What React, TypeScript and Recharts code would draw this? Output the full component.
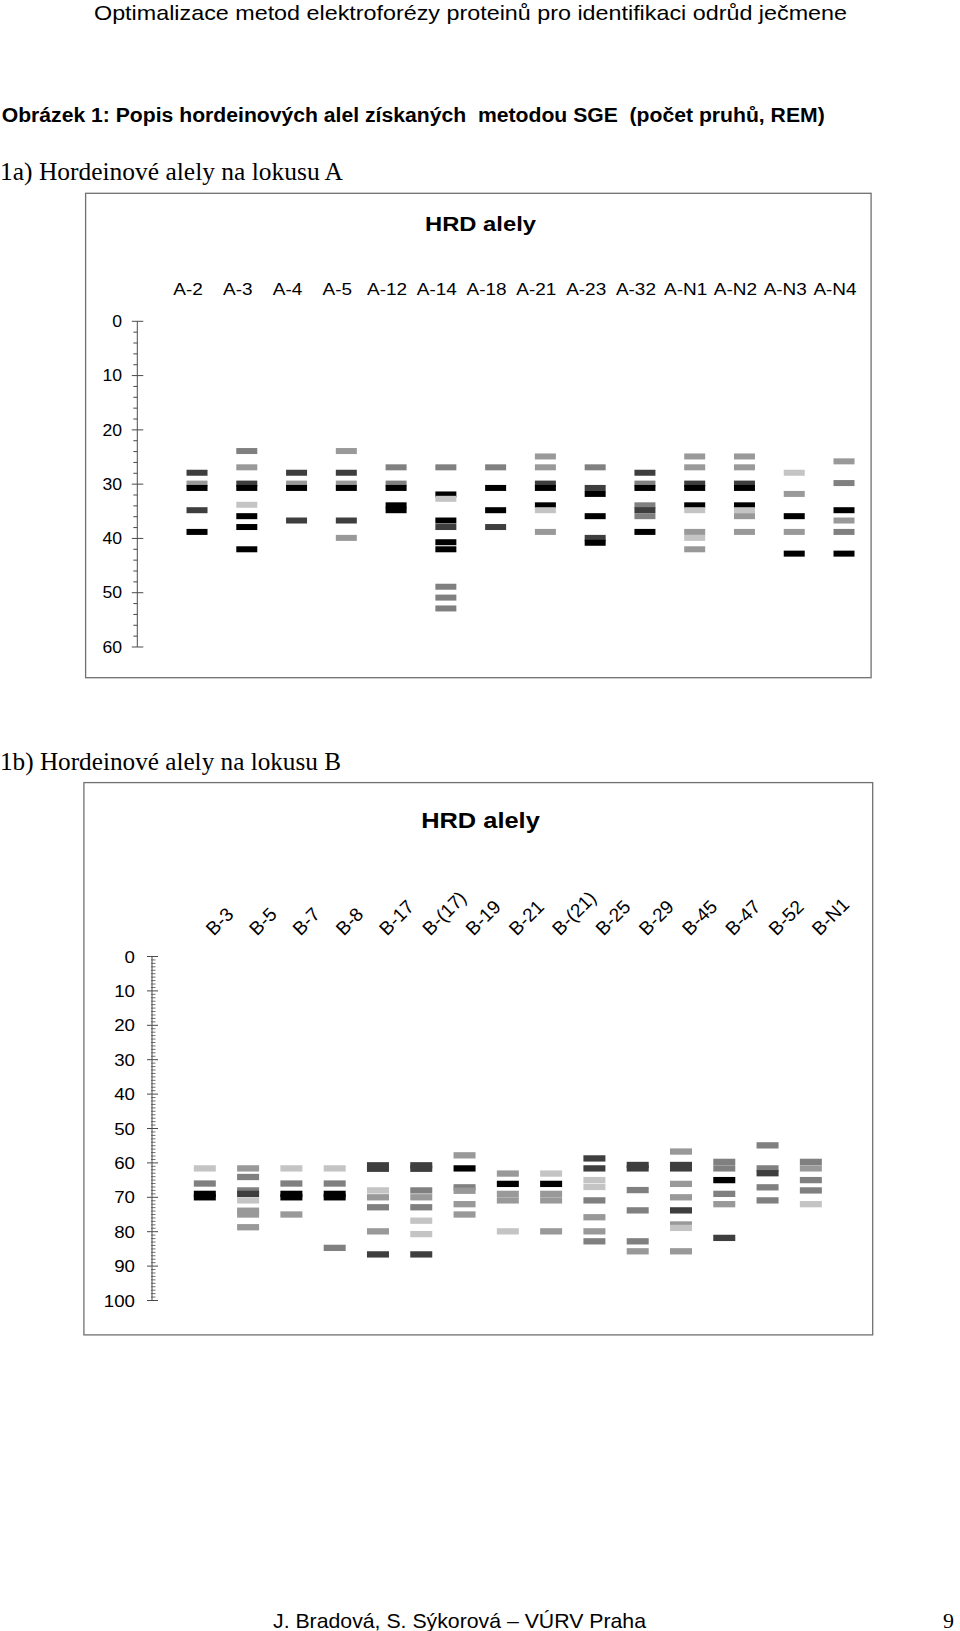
import React from 'react';
import { ScatterChart, Scatter, XAxis, YAxis } from 'recharts';

const SANS = 'Liberation Sans, Arial, Helvetica, sans-serif';
const SERIF = 'Liberation Serif, Times New Roman, serif';

// band shades
const K = '#000000';
const D = '#3e3e3e';
const G = '#808080';
const M = '#999999';
const L = '#c4c4c4';

// ---------- locus A ----------
const allelesA = ['A-2', 'A-3', 'A-4', 'A-5', 'A-12', 'A-14', 'A-18', 'A-21', 'A-23', 'A-32', 'A-N1', 'A-N2', 'A-N3', 'A-N4'];
const A_2: [number, string][] = [[27.9, D], [29.9, M], [30.7, K], [34.8, D], [38.8, K]];
const A_3: [number, string][] = [[23.9, G], [26.9, M], [29.9, D], [30.7, K], [33.8, L], [35.9, K], [37.9, K], [42.0, K]];
const A_4: [number, string][] = [[27.9, D], [29.9, M], [30.7, K], [36.7, D]];
const A_5: [number, string][] = [[23.9, M], [27.9, D], [29.9, M], [30.7, K], [36.7, D], [39.9, M]];
const A_12: [number, string][] = [[26.9, G], [29.9, G], [30.7, K], [33.9, K], [34.8, K]];
const A_14: [number, string][] = [[26.9, G], [31.9, K], [32.7, L], [36.7, K], [37.9, D], [40.7, K], [42.0, K], [48.9, G], [50.9, G], [52.9, G]];
const A_18: [number, string][] = [[26.9, G], [30.7, K], [34.8, K], [37.9, D]];
const A_21: [number, string][] = [[24.9, M], [26.9, M], [29.9, D], [30.7, K], [33.9, K], [34.8, L], [38.8, M]];
const A_23: [number, string][] = [[26.9, G], [30.7, D], [31.8, K], [35.9, K], [39.9, D], [40.8, K]];
const A_32: [number, string][] = [[27.9, D], [29.9, G], [30.7, K], [33.9, G], [34.8, D], [35.9, G], [38.8, K]];
const A_N1: [number, string][] = [[24.9, M], [26.9, M], [29.9, D], [30.7, K], [33.9, K], [34.8, L], [38.8, M], [39.9, L], [42.0, M]];
const A_N2: [number, string][] = [[24.9, M], [26.9, M], [29.9, D], [30.7, K], [33.9, K], [34.8, L], [35.9, M], [38.8, M]];
const A_N3: [number, string][] = [[27.9, L], [31.8, M], [35.9, K], [38.8, M], [42.8, K]];
const A_N4: [number, string][] = [[25.8, M], [29.8, G], [34.8, K], [36.7, M], [38.8, G], [42.8, K]];
const lanesA = [A_2, A_3, A_4, A_5, A_12, A_14, A_18, A_21, A_23, A_32, A_N1, A_N2, A_N3, A_N4];
const ticksA = [0, 2, 4, 6, 8, 10, 12, 14, 16, 18, 20, 22, 24, 26, 28, 30, 32, 34, 36, 38, 40, 42, 44, 46, 48, 50, 52, 54, 56, 58, 60];

// ---------- locus B ----------
const allelesB = ['B-3', 'B-5', 'B-7', 'B-8', 'B-17', 'B-(17)', 'B-19', 'B-21', 'B-(21)', 'B-25', 'B-29', 'B-45', 'B-47', 'B-52', 'B-N1'];
const B_3: [number, string][] = [[61.6, L], [66.0, G], [69.0, K], [70.0, K]];
const B_5: [number, string][] = [[61.6, M], [64.1, G], [68.0, G], [69.0, D], [70.9, L], [73.9, M], [75.0, M], [78.7, M]];
const B_7: [number, string][] = [[61.6, L], [66.0, G], [69.0, K], [70.0, K], [75.0, M]];
const B_8: [number, string][] = [[61.6, L], [66.0, G], [69.0, K], [70.0, K], [84.7, G]];
const B_17: [number, string][] = [[60.7, D], [61.7, D], [68.0, L], [70.0, M], [72.9, G], [79.9, M], [86.6, D]];
const B_p17: [number, string][] = [[60.7, D], [61.7, D], [68.0, G], [70.0, M], [72.9, G], [76.8, L], [80.7, L], [86.6, D]];
const B_19: [number, string][] = [[57.8, M], [61.6, K], [67.1, G], [68.1, M], [72.0, M], [75.0, M]];
const B_21: [number, string][] = [[63.1, M], [66.1, K], [69.0, M], [70.9, M], [79.9, L]];
const B_p21: [number, string][] = [[63.1, L], [66.1, K], [69.0, M], [70.9, M], [79.9, M]];
const B_25: [number, string][] = [[58.7, D], [61.6, D], [65.0, L], [67.0, L], [70.9, G], [75.8, M], [79.9, M], [82.8, G]];
const B_29: [number, string][] = [[60.6, D], [61.6, D], [67.9, G], [73.8, G], [82.8, G], [85.7, M]];
const B_45: [number, string][] = [[56.7, M], [60.6, D], [61.6, D], [66.1, M], [70.0, M], [73.8, D], [77.9, M], [78.9, L], [85.7, M]];
const B_47: [number, string][] = [[59.7, G], [61.6, G], [65.0, K], [69.0, G], [72.0, M], [81.8, D]];
const B_52: [number, string][] = [[54.9, G], [61.6, G], [63.0, D], [67.1, G], [70.9, G]];
const B_N1: [number, string][] = [[59.7, G], [61.6, M], [65.0, G], [68.0, G], [72.0, L]];
const lanesB = [B_3, B_5, B_7, B_8, B_17, B_p17, B_19, B_21, B_p21, B_25, B_29, B_45, B_47, B_52, B_N1];
const ticksB = Array.from({ length: 101 }, (_, i) => i);

const toPoints = (lanes: [number, string][][]) =>
  lanes.flatMap((bands, lane) => bands.map(([rem, shade]) => ({ lane, rem, shade })));

const dataA = toPoints(lanesA);
const dataB = toPoints(lanesB);

const bandShape = (w: number, h: number) => (props: any) => {
  const { cx, cy, payload } = props;
  if (cx == null || cy == null) return <g />;
  return <rect x={cx - w / 2} y={cy - h / 2} width={w} height={h} fill={payload.shade} />;
};

const AXIS = '#4a4a4a';
const XH = 30; // x-axis band height (labels drawn inside the top margin)

const YTickA = (props: any) => {
  const { x, y, payload } = props;
  const v = payload.value;
  const major = v % 10 === 0;
  return (
    <g>
      {major ? (
        <line x1={x - 5.5} x2={x + 6} y1={y} y2={y} stroke={AXIS} strokeWidth={1} />
      ) : (
        <line x1={x - 4} x2={x} y1={y} y2={y} stroke={AXIS} strokeWidth={1} />
      )}
      {major && (
        <g transform={`translate(${x - 15.3},${y}) scale(1.1,1)`}>
          <text x={0} y={0} dy="0.36em" textAnchor="end" fontSize={16} fill="#000" fontFamily={SANS}>
            {v}
          </text>
        </g>
      )}
    </g>
  );
};

const YTickB = (props: any) => {
  const { x, y, payload } = props;
  const v = payload.value;
  const major = v % 10 === 0;
  return (
    <g>
      {major ? (
        <line x1={x - 5} x2={x + 6} y1={y} y2={y} stroke={AXIS} strokeWidth={1} />
      ) : (
        <line x1={x - 1} x2={x + 3.5} y1={y} y2={y} stroke={AXIS} strokeWidth={0.8} />
      )}
      {major && (
        <g transform={`translate(${x - 17},${y}) scale(1.1,1)`}>
          <text x={0} y={0} dy="0.36em" textAnchor="end" fontSize={17} fill="#000" fontFamily={SANS}>
            {v}
          </text>
        </g>
      )}
    </g>
  );
};

const LaneTickA = (props: any) => {
  const { x, y, payload } = props;
  return (
    <g transform={`translate(${x - 9},${y - 26.2}) scale(1.15,1)`}>
      <text x={0} y={0} textAnchor="middle" fontSize={16.5} fill="#000" fontFamily={SANS}>
        {allelesA[payload.value]}
      </text>
    </g>
  );
};

const LaneTickB = (props: any) => {
  const { x, y, payload } = props;
  return (
    <g transform={`translate(${x + 9},${y - 20}) rotate(-45)`}>
      <text x={0} y={0} textAnchor="start" fontSize={19} fill="#000" fontFamily={SANS}>
        {allelesB[payload.value]}
      </text>
    </g>
  );
};

const laneTicksA = allelesA.map((_, i) => i);
const laneTicksB = allelesB.map((_, i) => i);

export default function App() {
  return (
    <div style={{ position: 'absolute', left: 0, top: 0, width: 960, height: 1631, background: '#fff' }}>
      <div style={{ position: 'absolute', left: 85, top: 192.7 }}>
        <ScatterChart width={786.7} height={485.6} margin={{ top: 128.3 - XH, right: 2.8, bottom: 31.6, left: 0 }}>
          <XAxis
            type="number"
            dataKey="lane"
            orientation="top"
            height={XH}
            domain={[-1.2, 13.5]}
            allowDataOverflow
            ticks={laneTicksA}
            interval={0}
            axisLine={false}
            tickLine={false}
            tickSize={0}
            tickMargin={0}
            tick={(p: any) => <LaneTickA {...p} />}
          />
          <YAxis
            type="number"
            dataKey="rem"
            domain={[0, 60]}
            allowDataOverflow
            reversed
            width={52.3}
            ticks={ticksA}
            interval={0}
            tickSize={0}
            tickMargin={0}
            tickLine={false}
            axisLine={{ stroke: AXIS, strokeWidth: 1 }}
            tick={(p: any) => <YTickA {...p} />}
          />
          <Scatter data={dataA} isAnimationActive={false} shape={bandShape(21, 6)} />
        </ScatterChart>
      </div>

      <div style={{ position: 'absolute', left: 83.3, top: 782 }}>
        <ScatterChart width={790} height={553.5} margin={{ top: 174.5 - XH, right: 40.5, bottom: 35, left: 0 }}>
          <XAxis
            type="number"
            dataKey="lane"
            orientation="top"
            height={XH}
            domain={[-1.22, 14.5]}
            allowDataOverflow
            ticks={laneTicksB}
            interval={0}
            axisLine={false}
            tickLine={false}
            tickSize={0}
            tickMargin={0}
            tick={(p: any) => <LaneTickB {...p} />}
          />
          <YAxis
            type="number"
            dataKey="rem"
            domain={[0, 100]}
            allowDataOverflow
            reversed
            width={69}
            ticks={ticksB}
            interval={0}
            tickSize={0}
            tickMargin={0}
            tickLine={false}
            axisLine={{ stroke: AXIS, strokeWidth: 1 }}
            tick={(p: any) => <YTickB {...p} />}
          />
          <Scatter data={dataB} isAnimationActive={false} shape={bandShape(22, 6.3)} />
        </ScatterChart>
      </div>

      <svg width={960} height={1631} style={{ position: 'absolute', left: 0, top: 0, pointerEvents: 'none' }}>
        <rect x={85.6} y={193.3} width={785.5} height={484.4} fill="none" stroke="#707070" strokeWidth={1.3} />
        <rect x={83.9} y={782.6} width={788.8} height={552.3} fill="none" stroke="#707070" strokeWidth={1.3} />
        <text x={94} y={19.5} fontFamily={SANS} fontSize={21} textLength={753} lengthAdjust="spacingAndGlyphs" fill="#000">
          Optimalizace metod elektroforézy proteinů pro identifikaci odrůd ječmene
        </text>
        <text x={1.7} y={121.5} fontFamily={SANS} fontWeight="bold" fontSize={20} textLength={823} lengthAdjust="spacingAndGlyphs" fill="#000" style={{ whiteSpace: 'pre' }}>
          {'Obrázek 1: Popis hordeinových alel získaných  metodou SGE  (počet pruhů, REM)'}
        </text>
        <text x={0} y={179.5} fontFamily={SERIF} fontSize={25} textLength={343} lengthAdjust="spacingAndGlyphs" fill="#000">
          1a) Hordeinové alely na lokusu A
        </text>
        <text x={480.5} y={231} textAnchor="middle" fontFamily={SANS} fontWeight="bold" fontSize={21} textLength={111} lengthAdjust="spacingAndGlyphs" fill="#000">
          HRD alely
        </text>
        <text x={0} y={770} fontFamily={SERIF} fontSize={25} textLength={341} lengthAdjust="spacingAndGlyphs" fill="#000">
          1b) Hordeinové alely na lokusu B
        </text>
        <text x={480.5} y={828} textAnchor="middle" fontFamily={SANS} fontWeight="bold" fontSize={22} textLength={118.6} lengthAdjust="spacingAndGlyphs" fill="#000">
          HRD alely
        </text>
        <text x={273} y={1627.5} fontFamily={SANS} fontSize={21} textLength={373} lengthAdjust="spacingAndGlyphs" fill="#000">
          J. Bradová, S. Sýkorová – VÚRV Praha
        </text>
        <text x={954} y={1627.5} textAnchor="end" fontFamily={SERIF} fontSize={22} fill="#000">
          9
        </text>
      </svg>
    </div>
  );
}
